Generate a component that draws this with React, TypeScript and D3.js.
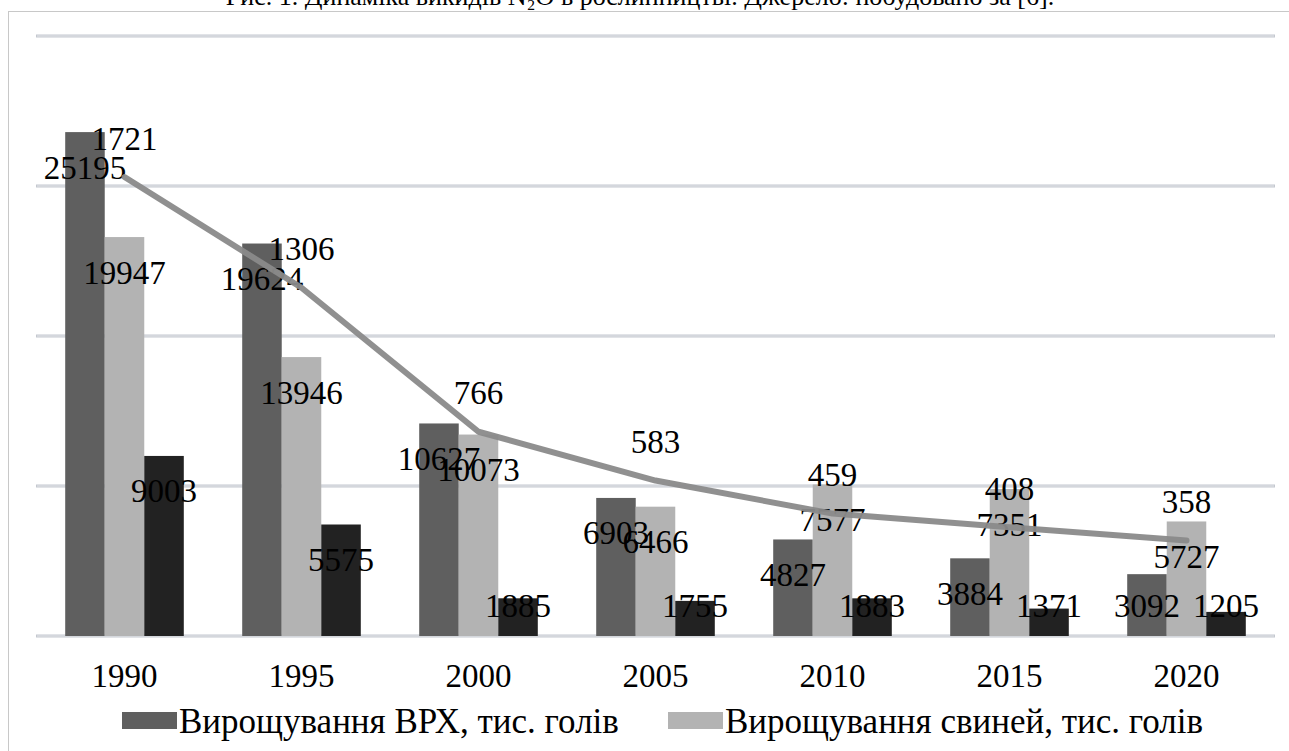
import React from 'react';
import * as d3 from 'd3';

// categories and series
const years = ['1990', '1995', '2000', '2005', '2010', '2015', '2020'];
const cattle = [25195, 19624, 10627, 6903, 4827, 3884, 3092];
const pigs = [19947, 13946, 10073, 6466, 7577, 7351, 5727];
const third = [9003, 5575, 1885, 1755, 1883, 1371, 1205];
const lineVals = [1721, 1306, 766, 583, 459, 408, 358];
const gridTicks = [0, 7500, 15000, 22500, 30000];

const barSeries = [
  { key: 'cattle', values: cattle, color: '#5f5f5f' },
  { key: 'pigs', values: pigs, color: '#b3b3b3' },
  { key: 'third', values: third, color: '#222222' },
];
const legendItems = [
  { label: 'Вирощування ВРХ, тис. голів', color: '#5f5f5f' },
  { label: 'Вирощування свиней, тис. голів', color: '#b3b3b3' },
];
const caption = 'Рис. 1. Динаміка викидів N\u2082O в рослинництві. Джерело: побудовано за [6].';

const App = () => {
  const ref = React.useRef<SVGSVGElement>(null);

  React.useEffect(() => {
    const width = 1289;
    const height = 751;
    const font = "'Liberation Serif', 'Times New Roman', Times, 'DejaVu Serif', 'Noto Serif', serif";

    const svg = d3.select(ref.current);
    svg.selectAll('*').remove();

    // frame of the chart area (runs off the page at right and bottom)
    svg.append('rect')
      .attr('x', 8.5).attr('y', 11.5)
      .attr('width', 1400).attr('height', 900)
      .attr('fill', '#fff')
      .attr('stroke', '#c8c8c8');

    // caption, cut by the top edge
    svg.append('text')
      .attr('x', 640).attr('y', 5)
      .attr('text-anchor', 'middle')
      .style('font-family', font)
      .style('font-size', '26px')
      .text(caption);

    const left = 36;
    const right = 1275;
    const top = 36;
    const bottom = 636;

    const x0 = d3.scaleBand()
      .domain(years)
      .range([left, right])
      .paddingInner(0.33)
      .paddingOuter(0.165);
    const x1 = d3.scaleBand()
      .domain(barSeries.map((s) => s.key))
      .range([0, x0.bandwidth()]);
    const y = d3.scaleLinear().domain([0, 30000]).range([bottom, top]);
    const y2 = d3.scaleLinear().domain([0, 2250]).range([bottom, top]);

    // gridlines
    const grid = svg.append('g');
    grid.selectAll('line.outer')
      .data(gridTicks)
      .join('line')
      .attr('x1', left).attr('x2', right)
      .attr('y1', (d) => y(d)).attr('y2', (d) => y(d))
      .attr('stroke', '#c4c8cf')
      .attr('stroke-width', 3);
    grid.selectAll('line.inner')
      .data(gridTicks)
      .join('line')
      .attr('x1', left + 1).attr('x2', right - 1)
      .attr('y1', (d) => y(d)).attr('y2', (d) => y(d))
      .attr('stroke', '#e4e6ea')
      .attr('stroke-width', 1);

    // bars
    const bars = svg.append('g');
    barSeries.forEach((s) => {
      bars.selectAll(null)
        .data(s.values)
        .join('rect')
        .attr('x', (d, i) => x0(years[i]) + x1(s.key))
        .attr('y', (d) => y(d))
        .attr('width', x1.bandwidth())
        .attr('height', (d) => bottom - y(d))
        .attr('fill', s.color);
    });

    // bar labels
    const labels = svg.append('g')
      .style('font-family', font)
      .style('font-size', '33px')
      .attr('text-anchor', 'middle');
    barSeries.forEach((s) => {
      labels.selectAll(null)
        .data(s.values)
        .join('text')
        .attr('x', (d, i) => x0(years[i]) + x1(s.key) + x1.bandwidth() / 2)
        .attr('y', (d) => Math.min(y(d) + 35, bottom - 31))
        .attr('dy', '0.35em')
        .text((d) => d);
    });

    // line on secondary axis
    const cx = (i) => x0(years[i]) + x0.bandwidth() / 2;
    const line = d3.line<number>()
      .x((d, i) => cx(i))
      .y((d) => y2(d));
    svg.append('path')
      .datum(lineVals)
      .attr('d', line)
      .attr('fill', 'none')
      .attr('stroke', '#8a8a8a')
      .attr('stroke-width', 6)
      .attr('stroke-linecap', 'round')
      .attr('stroke-linejoin', 'round')
      .attr('opacity', 0.95);

    labels.selectAll(null)
      .data(lineVals)
      .join('text')
      .attr('x', (d, i) => cx(i))
      .attr('y', (d) => y2(d) - 39)
      .attr('dy', '0.35em')
      .text((d) => d);

    // category axis labels
    svg.append('g')
      .style('font-family', font)
      .style('font-size', '33px')
      .attr('text-anchor', 'middle')
      .selectAll('text')
      .data(years)
      .join('text')
      .attr('x', (d) => x0(d) + x0.bandwidth() / 2)
      .attr('y', 687)
      .text((d) => d);

    // legend
    const legendX = [122, 668];
    const lg = svg.append('g')
      .style('font-family', font)
      .style('font-size', '35px');
    legendItems.forEach((item, i) => {
      lg.append('rect')
        .attr('x', legendX[i]).attr('y', 712)
        .attr('width', 55).attr('height', 17)
        .attr('fill', item.color);
      lg.append('text')
        .attr('x', legendX[i] + 57).attr('y', 733)
        .text(item.label);
    });

    svg.attr('width', width).attr('height', height);
  }, []);

  return (
    <svg
      ref={ref}
      width={1289}
      height={751}
      style={{ position: 'absolute', left: 0, top: 0, background: '#fff' }}
    />
  );
};

export default App;
